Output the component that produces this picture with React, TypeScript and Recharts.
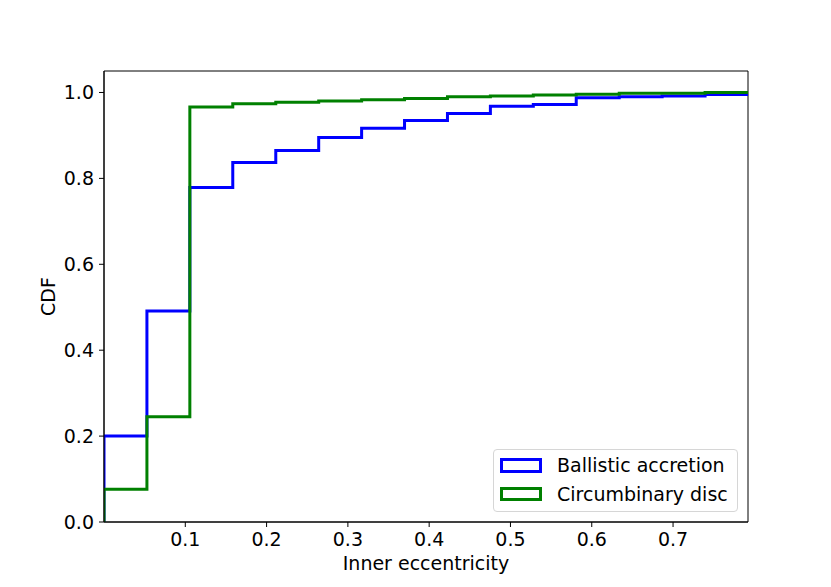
import {
  Label,
  Legend,
  Line,
  LineChart,
  ReferenceArea,
  XAxis,
  YAxis,
} from "recharts";

// histogram bin edges (15 equal bins) and cumulative fractions per bin
const BIN_EDGES = [
  0, 0.0528, 0.1056, 0.1584, 0.2113, 0.2641, 0.3169, 0.3697, 0.4225, 0.4753,
  0.5281, 0.5809, 0.6338, 0.6866, 0.7394, 0.7922,
];
const BALLISTIC_CDF = [
  0.2, 0.491, 0.779, 0.837, 0.865, 0.895, 0.917, 0.935, 0.951, 0.968, 0.972,
  0.988, 0.99, 0.992, 0.995,
];
const CIRCUMBINARY_CDF = [
  0.076, 0.245, 0.966, 0.974, 0.977, 0.98, 0.983, 0.986, 0.99, 0.992, 0.994,
  0.996, 0.998, 0.998, 1.0,
];
const X_TICKS = [0.1, 0.2, 0.3, 0.4, 0.5, 0.6, 0.7];
const Y_TICKS = [0, 0.2, 0.4, 0.6, 0.8, 1.0];

const X_MAX = BIN_EDGES[BIN_EDGES.length - 1];
const Y_MAX = 1.05;

const FONT = "'DejaVu Sans', sans-serif";
const FONT_SIZE = 19;

const SERIES = [
  { name: "Ballistic accretion", values: BALLISTIC_CDF, color: "#0000ff" },
  { name: "Circumbinary disc", values: CIRCUMBINARY_CDF, color: "#008000" },
];

// outline of a step histogram: up from zero, then across each bin
function toSteps(values: number[]) {
  const pts = [{ x: BIN_EDGES[0], y: 0 }];
  values.forEach((v, i) => pts.push({ x: BIN_EDGES[i], y: v }));
  pts.push({ x: BIN_EDGES[values.length], y: values[values.length - 1] });
  return pts;
}

function LegendBox() {
  return (
    <div
      style={{
        position: "relative",
        boxSizing: "border-box",
        width: 245,
        height: 63,
        border: "1px solid #d6d6d6",
        borderRadius: 4,
        background: "rgba(255,255,255,0.8)",
        fontFamily: FONT,
        fontSize: FONT_SIZE,
        color: "#000",
      }}
    >
      {SERIES.map((s, i) => (
        <div key={s.name}>
          <div
            style={{
              position: "absolute",
              boxSizing: "border-box",
              left: 6,
              top: 8 + i * 28.5,
              width: 42,
              height: 14.5,
              border: `3px solid ${s.color}`,
            }}
          />
          <div
            style={{
              position: "absolute",
              left: 63,
              top: 15 + i * 28.5 - 12,
              height: 24,
              lineHeight: "24px",
              whiteSpace: "nowrap",
            }}
          >
            {s.name}
          </div>
        </div>
      ))}
    </div>
  );
}

export default function App() {
  const tickStyle = { fontFamily: FONT, fontSize: FONT_SIZE, fill: "#000" };
  return (
    <div
      style={{
        position: "absolute",
        left: 0,
        top: 0,
        width: 831,
        height: 587,
        background: "#fff",
      }}
    >
      <LineChart
        width={831}
        height={587}
        margin={{ top: 71, right: 83, bottom: 5, left: 44 }}
      >
        <XAxis
          type="number"
          dataKey="x"
          domain={[0, X_MAX]}
          allowDataOverflow
          ticks={X_TICKS}
          tickFormatter={(v: number) => v.toFixed(1)}
          tick={tickStyle}
          tickSize={5}
          tickMargin={6}
          tickLine={{ stroke: "#000" }}
          axisLine={{ stroke: "#000" }}
          height={60}
        >
          <Label
            content={({ viewBox }: any) => (
              <text
                x={viewBox.x + viewBox.width / 2}
                y={viewBox.y + 48}
                textAnchor="middle"
                fontFamily={FONT}
                fontSize={FONT_SIZE}
                fill="#000"
              >
                Inner eccentricity
              </text>
            )}
          />
        </XAxis>
        <YAxis
          type="number"
          dataKey="y"
          domain={[0, Y_MAX]}
          allowDataOverflow
          ticks={Y_TICKS}
          tickFormatter={(v: number) => v.toFixed(1)}
          tick={tickStyle}
          tickSize={5}
          tickMargin={5}
          tickLine={{ stroke: "#000" }}
          axisLine={{ stroke: "#000" }}
          width={60}
        >
          <Label
            content={({ viewBox }: any) => {
              const x = viewBox.x + 11;
              const y = viewBox.y + viewBox.height / 2;
              return (
                <text
                  x={x}
                  y={y}
                  textAnchor="middle"
                  transform={`rotate(-90 ${x} ${y})`}
                  fontFamily={FONT}
                  fontSize={FONT_SIZE}
                  fill="#000"
                >
                  CDF
                </text>
              );
            }}
          />
        </YAxis>
        {SERIES.map((s) => (
          <Line
            key={s.name}
            name={s.name}
            data={toSteps(s.values)}
            dataKey="y"
            type="stepAfter"
            stroke={s.color}
            strokeWidth={3}
            strokeLinejoin="miter"
            dot={false}
            activeDot={false}
            isAnimationActive={false}
          />
        ))}
        <ReferenceArea
          x1={0}
          x2={X_MAX}
          y1={0}
          y2={Y_MAX}
          fill="none"
          stroke="#000"
          strokeWidth={1}
        />
        <Legend
          layout="vertical"
          align="center"
          verticalAlign="middle"
          wrapperStyle={{ left: 493, top: 449, width: 245, height: 63 }}
          content={() => <LegendBox />}
        />
      </LineChart>
    </div>
  );
}
